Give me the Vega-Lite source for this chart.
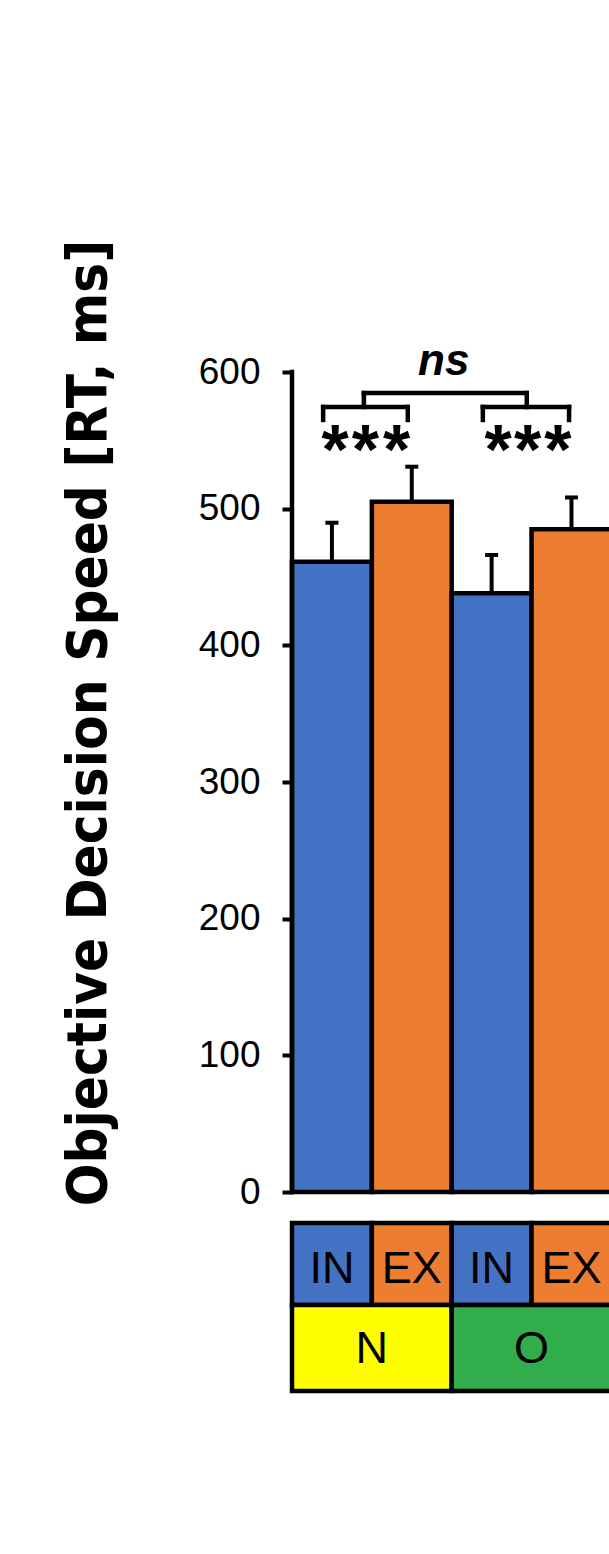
{
  "$schema": "https://vega.github.io/schema/vega-lite/v6.json",
  "width": 317,
  "height": 1025,
  "autosize": "none",
  "padding": {"left": 292, "top": 372, "right": 0, "bottom": 157},
  "background": "white",
  "config": {"view": {"stroke": null}},
  "datasets": {
    "bars": [
      {"condition": "IN", "group": "N", "slot": 0.5, "rt": 461.2, "upper": 489.7},
      {"condition": "EX", "group": "N", "slot": 1.5, "rt": 505.1, "upper": 530.7},
      {"condition": "IN", "group": "O", "slot": 2.5, "rt": 438.2, "upper": 466.1},
      {"condition": "EX", "group": "O", "slot": 3.5, "rt": 485.0, "upper": 508.2}
    ],
    "groups": [
      {"group": "N", "slot": 1},
      {"group": "O", "slot": 3}
    ],
    "brackets": [
      {"x": 0.39, "x2": 1.45, "y": 574.4, "y2": 574.4},
      {"x": 0.39, "x2": 0.39, "y": 574.4, "y2": 564.9},
      {"x": 1.45, "x2": 1.45, "y": 574.4, "y2": 564.9},
      {"x": 2.39, "x2": 3.47, "y": 574.4, "y2": 574.4},
      {"x": 2.39, "x2": 2.39, "y": 574.4, "y2": 564.9},
      {"x": 3.47, "x2": 3.47, "y": 574.4, "y2": 564.9},
      {"x": 0.90, "x2": 2.94, "y": 584.6, "y2": 584.6},
      {"x": 0.90, "x2": 0.90, "y": 584.6, "y2": 574.4},
      {"x": 2.94, "x2": 2.94, "y": 584.6, "y2": 574.4}
    ],
    "stars": [
      {"label": "*", "slot": 0.54},
      {"label": "*", "slot": 0.92},
      {"label": "*", "slot": 1.31},
      {"label": "*", "slot": 2.58},
      {"label": "*", "slot": 2.95},
      {"label": "*", "slot": 3.33}
    ],
    "ns": [
      {"label": "ns", "slot": 1.90}
    ]
  },
  "layer": [
    {
      "data": {"name": "bars"},
      "mark": {"type": "bar", "width": 79.85, "stroke": "black", "strokeWidth": 4.5, "orient": "vertical"},
      "encoding": {
        "x": {"field": "slot", "type": "quantitative", "scale": {"domain": [0, 3.97], "nice": false, "zero": false, "padding": 0}, "axis": null},
        "y": {
          "field": "rt", "type": "quantitative",
          "scale": {"domain": [-150, 600], "nice": false, "zero": false, "padding": 0},
          "axis": {
            "values": [0, 100, 200, 300, 400, 500, 600],
            "domain": false,
            "grid": false,
            "ticks": true,
            "tickSize": 10,
            "tickWidth": 4,
            "tickColor": "black",
            "labelFont": "Liberation Sans",
            "labelFontSize": 37,
            "labelColor": "black",
            "labelPadding": 22,
            "labelBaseline": "middle",
            "title": "Objective Decision Speed [RT, ms]",
            "titleFont": "Liberation Sans Narrow, DejaVu Sans Condensed, Liberation Sans",
            "titleFontWeight": "bold",
            "titleFontSize": 56,
            "titleColor": "black",
            "titleAngle": -90,
            "titleAlign": "center",
            "titleBaseline": "alphabetic",
            "titleX": -187,
            "titleY": 350.5
          }
        },
        "y2": {"datum": 0},
        "fill": {"field": "condition", "type": "nominal", "scale": {"domain": ["IN", "EX", "N", "O"], "range": ["#4472C4", "#ED7D31", "#FFFF00", "#31AD4B"]}, "legend": null}
      }
    },
    {
      "data": {"name": "bars"},
      "mark": {"type": "rule", "strokeWidth": 4, "color": "black"},
      "encoding": {
        "x": {"field": "slot", "type": "quantitative", "scale": {"domain": [0, 3.97], "nice": false, "zero": false, "padding": 0}, "axis": null},
        "y": {"field": "rt", "type": "quantitative", "scale": {"domain": [-150, 600], "nice": false, "zero": false, "padding": 0}},
        "y2": {"field": "upper"}
      }
    },
    {
      "data": {"name": "bars"},
      "mark": {"type": "tick", "orient": "horizontal", "size": 13, "thickness": 4, "color": "black", "opacity": 1},
      "encoding": {
        "x": {"field": "slot", "type": "quantitative", "scale": {"domain": [0, 3.97], "nice": false, "zero": false, "padding": 0}, "axis": null},
        "y": {"field": "upper", "type": "quantitative", "scale": {"domain": [-150, 600], "nice": false, "zero": false, "padding": 0}}
      }
    },
    {
      "data": {"values": [{}]},
      "mark": {"type": "rule", "strokeWidth": 4.5, "color": "black", "strokeCap": "square"},
      "encoding": {
        "x": {"datum": 0, "type": "quantitative", "scale": {"domain": [0, 3.97], "nice": false, "zero": false, "padding": 0}, "axis": null},
        "y": {"datum": 0, "type": "quantitative", "scale": {"domain": [-150, 600], "nice": false, "zero": false, "padding": 0}},
        "y2": {"datum": 600}
      }
    },
    {
      "data": {"name": "bars"},
      "mark": {"type": "bar", "width": 79.85, "stroke": "black", "strokeWidth": 4.5, "orient": "vertical"},
      "encoding": {
        "x": {"field": "slot", "type": "quantitative", "scale": {"domain": [0, 3.97], "nice": false, "zero": false, "padding": 0}, "axis": null},
        "y": {"datum": -22.7, "type": "quantitative", "scale": {"domain": [-150, 600], "nice": false, "zero": false, "padding": 0}},
        "y2": {"datum": -82.7},
        "fill": {"field": "condition", "type": "nominal", "scale": {"domain": ["IN", "EX", "N", "O"], "range": ["#4472C4", "#ED7D31", "#FFFF00", "#31AD4B"]}, "legend": null}
      }
    },
    {
      "data": {"name": "groups"},
      "mark": {"type": "bar", "width": 159.7, "stroke": "black", "strokeWidth": 4.5, "orient": "vertical"},
      "encoding": {
        "x": {"field": "slot", "type": "quantitative", "scale": {"domain": [0, 3.97], "nice": false, "zero": false, "padding": 0}, "axis": null},
        "y": {"datum": -82.7, "type": "quantitative", "scale": {"domain": [-150, 600], "nice": false, "zero": false, "padding": 0}},
        "y2": {"datum": -145.6},
        "fill": {"field": "group", "type": "nominal", "scale": {"domain": ["IN", "EX", "N", "O"], "range": ["#4472C4", "#ED7D31", "#FFFF00", "#31AD4B"]}, "legend": null}
      }
    },
    {
      "data": {"name": "bars"},
      "mark": {"type": "text", "font": "Liberation Sans", "fontSize": 45, "color": "black", "align": "center", "baseline": "alphabetic"},
      "encoding": {
        "x": {"field": "slot", "type": "quantitative", "scale": {"domain": [0, 3.97], "nice": false, "zero": false, "padding": 0}, "axis": null},
        "y": {"datum": -66.6, "type": "quantitative", "scale": {"domain": [-150, 600], "nice": false, "zero": false, "padding": 0}},
        "text": {"field": "condition"}
      }
    },
    {
      "data": {"name": "groups"},
      "mark": {"type": "text", "font": "Liberation Sans", "fontSize": 45, "color": "black", "align": "center", "baseline": "alphabetic"},
      "encoding": {
        "x": {"field": "slot", "type": "quantitative", "scale": {"domain": [0, 3.97], "nice": false, "zero": false, "padding": 0}, "axis": null},
        "y": {"datum": -125.1, "type": "quantitative", "scale": {"domain": [-150, 600], "nice": false, "zero": false, "padding": 0}},
        "text": {"field": "group"}
      }
    },
    {
      "data": {"name": "brackets"},
      "mark": {"type": "rule", "strokeWidth": 4.5, "color": "black", "strokeCap": "square"},
      "encoding": {
        "x": {"field": "x", "type": "quantitative", "scale": {"domain": [0, 3.97], "nice": false, "zero": false, "padding": 0}, "axis": null},
        "x2": {"field": "x2"},
        "y": {"field": "y", "type": "quantitative", "scale": {"domain": [-150, 600], "nice": false, "zero": false, "padding": 0}},
        "y2": {"field": "y2"}
      }
    },
    {
      "data": {"name": "stars"},
      "mark": {"type": "text", "font": "Liberation Sans", "fontSize": 70, "fontWeight": "bold", "color": "black", "align": "center", "baseline": "alphabetic"},
      "encoding": {
        "x": {"field": "slot", "type": "quantitative", "scale": {"domain": [0, 3.97], "nice": false, "zero": false, "padding": 0}, "axis": null},
        "y": {"datum": 525.5, "type": "quantitative", "scale": {"domain": [-150, 600], "nice": false, "zero": false, "padding": 0}},
        "text": {"field": "label"}
      }
    },
    {
      "data": {"name": "ns"},
      "mark": {"type": "text", "font": "Liberation Sans", "fontSize": 44, "fontWeight": "bold", "fontStyle": "italic", "color": "black", "align": "center", "baseline": "alphabetic"},
      "encoding": {
        "x": {"field": "slot", "type": "quantitative", "scale": {"domain": [0, 3.97], "nice": false, "zero": false, "padding": 0}, "axis": null},
        "y": {"datum": 597.8, "type": "quantitative", "scale": {"domain": [-150, 600], "nice": false, "zero": false, "padding": 0}},
        "text": {"field": "label"}
      }
    }
  ]
}
